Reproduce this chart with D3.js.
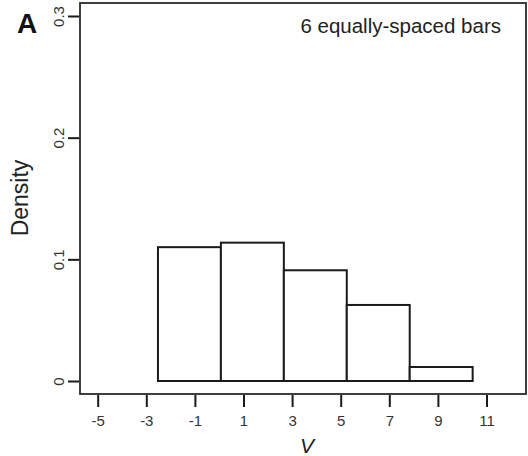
<!DOCTYPE html>
<html><head><meta charset="utf-8">
<script src="https://cdn.jsdelivr.net/npm/d3@7"></script>
<style>html,body{margin:0;padding:0;background:#fff;}svg{display:block;}</style>
</head><body>
<script>
const binEdges = [-2.52, 0.07, 2.66, 5.25, 7.84, 10.43];
const densities = [0.110, 0.1137, 0.091, 0.0625, 0.0115];
const xTicks = [-5, -3, -1, 1, 3, 5, 7, 9, 11];
const yTicks = [0, 0.1, 0.2, 0.3];
const yTickLabels = ["0", "0.1", "0.2", "0.3"];

const W = 528, H = 456;
const svg = d3.select("body").append("svg").attr("width", W).attr("height", H)
  .style("font-family", "'Liberation Sans', Arial, sans-serif");

const x = d3.scaleLinear().domain([-5, 11]).range([97.7, 486.5]);
const y = d3.scaleLinear().domain([0, 0.3]).range([381, 16]);

const bins = densities.map((d, i) => ({x0: binEdges[i], x1: binEdges[i + 1], d}));

// bars
svg.append("g").selectAll("rect").data(bins).join("rect")
  .attr("x", b => x(b.x0)).attr("y", b => y(b.d))
  .attr("width", b => x(b.x1) - x(b.x0)).attr("height", b => y(0) - y(b.d))
  .attr("fill", "#fff").attr("stroke", "#1a1a1a").attr("stroke-width", 2);

// plot box
svg.append("rect").attr("x", 80).attr("y", 3).attr("width", 446).attr("height", 391)
  .attr("fill", "none").attr("stroke", "#2a2a2a").attr("stroke-width", 1.8);

// x axis
const xAxis = d3.axisBottom(x).tickValues(xTicks).tickSize(12).tickPadding(8)
  .tickFormat(d => String(d));
const gx = svg.append("g").attr("transform", "translate(0,395)").call(xAxis);
gx.select(".domain").remove();
gx.selectAll(".tick line").attr("stroke", "#1a1a1a").attr("stroke-width", 2);
gx.selectAll(".tick text").attr("fill", "#333").attr("font-size", 15)
  .attr("font-family", "'Liberation Sans', Arial, sans-serif");

// y axis
const yAxis = d3.axisLeft(y).tickValues(yTicks).tickSize(11).tickPadding(6)
  .tickFormat((d, i) => yTickLabels[i]);
const gy = svg.append("g").attr("transform", "translate(79,0)").call(yAxis);
gy.select(".domain").remove();
gy.selectAll(".tick line").attr("stroke", "#1a1a1a").attr("stroke-width", 2);
gy.selectAll(".tick text").attr("fill", "#333").attr("font-size", 15)
  .attr("font-family", "'Liberation Sans', Arial, sans-serif")
  .attr("x", null).attr("dy", null)
  .attr("text-anchor", "middle")
  .attr("transform", "translate(-15,0) rotate(-90)");

// axis titles
svg.append("text").attr("x", 307).attr("y", 453).attr("text-anchor", "middle")
  .attr("font-size", 21).attr("font-style", "italic").attr("fill", "#222").text("V");
svg.append("text").attr("transform", "translate(28,198) rotate(-90)").attr("text-anchor", "middle")
  .attr("font-size", 23).attr("fill", "#222").text("Density");

// annotation
svg.append("text").attr("x", 501).attr("y", 33).attr("text-anchor", "end")
  .attr("font-size", 20.5).attr("fill", "#222").text("6 equally-spaced bars");

// panel label
svg.append("text").attr("x", 17).attr("y", 33)
  .attr("font-size", 28).attr("font-weight", "bold").attr("fill", "#111").text("A");
</script>
</body></html>
